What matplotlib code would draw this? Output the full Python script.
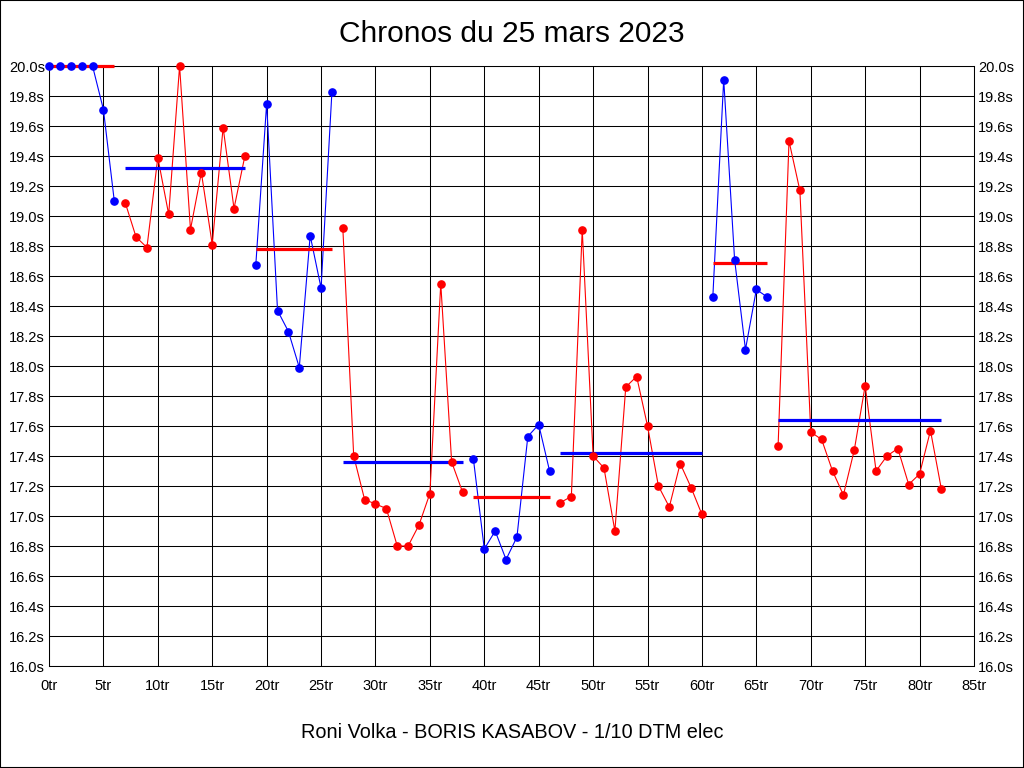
import numpy as np
from matplotlib import pyplot as plt
from matplotlib.patches import Rectangle

# lap times, lap 0 .. 82
chronos = [
    20.0, 20.0, 20.0, 20.0, 20.0, 19.71, 19.10,
    19.09, 18.86, 18.79, 19.39, 19.01, 20.0, 18.91, 19.29, 18.81, 19.59, 19.05, 19.40,
    18.67, 19.75, 18.37, 18.23, 17.99, 18.87, 18.52, 19.83,
    18.92, 17.40, 17.11, 17.08, 17.05, 16.80, 16.80, 16.94, 17.15, 18.55, 17.36, 17.16,
    17.38, 16.78, 16.90, 16.71, 16.86, 17.53, 17.61, 17.30,
    17.09, 17.13, 18.91, 17.40, 17.32, 16.90, 17.86, 17.93, 17.60, 17.20, 17.06, 17.35, 17.19, 17.01,
    18.46, 19.91, 18.71, 18.11, 18.51, 18.46,
    17.47, 19.50, 19.17, 17.56, 17.51, 17.30, 17.14, 17.44, 17.87, 17.30, 17.40, 17.45, 17.21, 17.28, 17.57, 17.18,
]
segment_starts = [0, 7, 19, 27, 39, 47, 61, 67]
segment_levels = [20.0, 19.32, 18.78, 17.36, 17.13, 17.42, 18.69, 17.64]
segment_colors = ["#0000ff", "#ff0000"]

title = "Chronos du 25 mars 2023"
footer = "Roni Volka - BORIS KASABOV - 1/10 DTM elec"

plt.rcParams['font.family'] = ['Liberation Sans', 'DejaVu Sans']

fig = plt.figure(figsize=(10.24, 7.68), dpi=100)
ax = fig.add_axes([49 / 1024, 1 - 666 / 768, 925 / 1024, 600 / 768])

laps = np.arange(len(chronos))
bounds = segment_starts + [len(chronos)]
for i in range(len(segment_starts)):
    a, b = bounds[i], bounds[i + 1]
    col = segment_colors[i % 2]
    other = segment_colors[(i + 1) % 2]
    ax.plot(laps[a:b], chronos[a:b], color=col, lw=0.8, zorder=2.5, clip_on=False)
    ax.hlines(segment_levels[i], laps[a], laps[b - 1], color=other, lw=2.3, zorder=3,
              clip_on=False)
    ax.plot(laps[a:b], chronos[a:b], ls='none', color=col, marker='o', ms=5.2, zorder=4,
            clip_on=False)

ax.set_xlim(0, 85)
ax.set_ylim(16.0, 20.0)
ax.set_xticks(np.arange(0, 86, 5))
ax.set_xticklabels([f"{v}tr" for v in range(0, 86, 5)])
yt = np.arange(16.0, 20.01, 0.2)
ax.set_yticks(yt)
ax.set_yticklabels([f"{v:.1f}s" for v in yt])
ax.tick_params(length=0, labelsize=10.5, pad=3, labelright=True, right=False)
ax.tick_params(axis='x', pad=9)
ax.grid(True, color='black', lw=0.75)
ax.set_axisbelow(True)
for s in ax.spines.values():
    s.set_color('black')
    s.set_linewidth(0.75)

fig.text(0.5, 1 - 34 / 768, title, ha='center', va='center', fontsize=21.5)
fig.text(0.5, 1 - 733 / 768, footer, ha='center', va='center', fontsize=14.3)
fig.patches.append(Rectangle((0, 0), 1, 1, transform=fig.transFigure, fill=False,
                             edgecolor='black', lw=1.5))

fig.savefig("out.png", dpi=100)
